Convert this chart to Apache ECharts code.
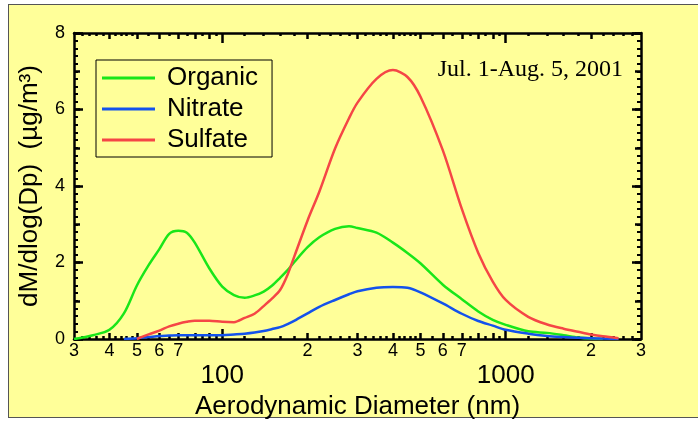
<!DOCTYPE html>
<html>
<head>
<meta charset="utf-8">
</head>
<body style="margin:0;background:#fff">
<div style="position:relative;width:698px;height:423px;overflow:hidden;background:#fff">
  <div style="position:absolute;left:8px;top:4px;width:720px;height:412px;background:#ffff99;border:1.5px solid #555"></div>
  <div id="main" style="position:absolute;left:0;top:0;width:698px;height:423px"></div>
</div>
<script src="https://cdn.jsdelivr.net/npm/echarts@6/dist/echarts.min.js"></script>
<script>
// size bins (nm) and mass distributions
var diameters = [30, 35, 40, 45, 50, 55, 60, 65, 70, 75, 80, 90, 100, 110, 120, 130, 140, 150, 160, 170, 180,
  200, 220, 250, 280, 300, 350, 400, 450, 500, 600, 700, 800, 900, 1000, 1200, 1400, 1600, 1800, 2000, 2200, 2500];

var organic = [0, 0.1, 0.24, 0.67, 1.4, 1.93, 2.35, 2.75, 2.83, 2.78, 2.52, 1.85, 1.37, 1.15, 1.08, 1.14, 1.24, 1.4, 1.6, 1.8, 2.02,
  2.4, 2.66, 2.88, 2.95, 2.9, 2.78, 2.52, 2.25, 1.98, 1.42, 1.04, 0.72, 0.5, 0.37, 0.2, 0.16, 0.1, 0.04, 0.01, 0, null];

var nitrate = [null, null, null, 0, 0.02, 0.05, 0.08, 0.09, 0.1, 0.1, 0.1, 0.1, 0.1, 0.12, 0.14, 0.17, 0.21, 0.26, 0.31, 0.39, 0.48,
  0.67, 0.84, 1.02, 1.17, 1.25, 1.34, 1.36, 1.34, 1.22, 0.93, 0.66, 0.47, 0.35, 0.24, 0.14, 0.08, 0.05, 0.03, 0.02, 0.01, 0];

var sulfate = [null, null, null, null, 0, 0.12, 0.22, 0.33, 0.4, 0.45, 0.48, 0.48, 0.45, 0.44, 0.55, 0.66, 0.86, 1.06, 1.28, 1.68, 2.18,
  3.1, 3.85, 4.98, 5.77, 6.18, 6.8, 7.03, 6.85, 6.34, 4.93, 3.4, 2.25, 1.5, 1.02, 0.58, 0.38, 0.27, 0.19, 0.12, 0.07, 0.02];

// x tick labels
var xDigitValues = [30, 40, 50, 60, 70, 200, 300, 400, 500, 600, 700, 2000, 3000];
var xDigitLabels = ['3', '4', '5', '6', '7', '2', '3', '4', '5', '6', '7', '2', '3'];
var xDecadeValues = [100, 1000];
var xMidTicks = [40, 50, 60, 70, 80, 90, 200, 300, 400, 500, 600, 700, 800, 900, 2000];
var xMinorTicks = [32, 34, 36, 38, 42, 44, 46, 48, 55, 65, 75, 85, 95, 120, 140, 160, 180, 220, 240, 260, 280,
  320, 340, 360, 380, 420, 440, 460, 480, 550, 650, 750, 850, 950, 1200, 1400, 1600, 1800, 2200, 2400, 2600, 2800];

var FONT = '"Liberation Sans", Arial, sans-serif';

function pairs(vals) {
  var out = [];
  for (var i = 0; i < diameters.length; i++) {
    if (vals[i] !== null) out.push([diameters[i], vals[i]]);
  }
  return out;
}

function xAx(position, tickVals, tickLen, lineOn) {
  return {
    type: 'log', logBase: 10, min: 30, max: 3000, position: position,
    axisLine: { show: lineOn, onZero: false, lineStyle: { color: '#000', width: 2.5 } },
    axisTick: { show: true, inside: true, length: tickLen, customValues: tickVals,
      lineStyle: { color: '#000', width: 2.5 } },
    axisLabel: { show: false },
    splitLine: { show: false }
  };
}

function yAx(position, interval, tickLen, lineOn, minor) {
  return {
    type: 'value', min: 0, max: 8, interval: interval, position: position,
    axisLine: { show: lineOn, onZero: false, lineStyle: { color: '#000', width: 2.5 } },
    axisTick: { show: true, inside: true, length: tickLen, lineStyle: { color: '#000', width: 2.5 } },
    minorTick: { show: minor, splitNumber: 10, length: 4, lineStyle: { color: '#000', width: 2 } },
    axisLabel: { show: false },
    splitLine: { show: false }
  };
}

var xDigits = xAx('bottom', xMidTicks, 6, true);
xDigits.axisLabel = {
  show: true, customValues: xDigitValues, margin: 3, fontSize: 18, fontFamily: FONT, color: '#000',
  formatter: function (v) {
    for (var i = 0; i < xDigitValues.length; i++) {
      if (Math.abs(xDigitValues[i] - v) < 1e-6 * v) return xDigitLabels[i];
    }
    return '';
  }
};

var xDecades = xAx('bottom', xDecadeValues, 10, false);
xDecades.axisLabel = {
  show: true, customValues: xDecadeValues, margin: 24, fontSize: 26, fontFamily: FONT, color: '#000',
  formatter: function (v) { return String(Math.round(v)); }
};
xDecades.name = 'Aerodynamic Diameter (nm)';
xDecades.nameLocation = 'middle';
xDecades.nameGap = 52;
xDecades.nameTextStyle = { fontSize: 26, fontFamily: FONT, color: '#000' };

var yMain = yAx('left', 2, 9, true, true);
yMain.axisLabel = { show: true, margin: 9, fontSize: 18, fontFamily: FONT, color: '#000' };
yMain.name = 'dM/dlog(Dp)  (\u00b5g/m\u00b3)';
yMain.nameLocation = 'middle';
yMain.nameGap = 31;
yMain.nameTextStyle = { fontSize: 26, fontFamily: FONT, color: '#000' };

var chart = echarts.init(document.getElementById('main'), null, { renderer: 'canvas' });

var option = {
  backgroundColor: 'transparent',
  animation: false,
  title: {
    text: 'Jul. 1-Aug. 5, 2001', right: 75, top: 58, padding: 0,
    textStyle: { fontFamily: '"Liberation Serif", "Times New Roman", serif', fontSize: 24, fontWeight: 'normal', color: '#000' }
  },
  legend: {
    orient: 'vertical', left: 96, top: 60, padding: [5, 14, 4, 6], itemGap: 5,
    itemWidth: 53, itemHeight: 3, icon: 'rect',
    borderColor: '#000', borderWidth: 1,
    textStyle: { fontSize: 26, fontFamily: FONT, color: '#000', padding: [0, 0, 0, 7] },
    data: ['Organic', 'Nitrate', 'Sulfate']
  },
  grid: { left: 74, right: 57, top: 33, bottom: 84, outerBoundsMode: 'none' },
  xAxis: [
    xDigits,
    xDecades,
    xAx('bottom', xMinorTicks, 3, false),
    xAx('top', xMidTicks, 6, true),
    xAx('top', xDecadeValues, 10, false),
    xAx('top', xMinorTicks, 3, false)
  ],
  yAxis: [
    yMain,
    yAx('left', 1, 6, false, false),
    yAx('right', 2, 9, true, true),
    yAx('right', 1, 6, false, false)
  ],
  series: [
    { name: 'Organic', type: 'line', data: pairs(organic), symbol: 'none', smooth: 0.3,
      color: '#19e619', lineStyle: { width: 2.5 } },
    { name: 'Nitrate', type: 'line', data: pairs(nitrate), symbol: 'none', smooth: 0.3,
      color: '#1452ec', lineStyle: { width: 2.5 } },
    { name: 'Sulfate', type: 'line', data: pairs(sulfate), symbol: 'none', smooth: 0.3,
      color: '#f54646', lineStyle: { width: 2.5 } }
  ]
};

chart.setOption(option);
</script>
</body>
</html>
